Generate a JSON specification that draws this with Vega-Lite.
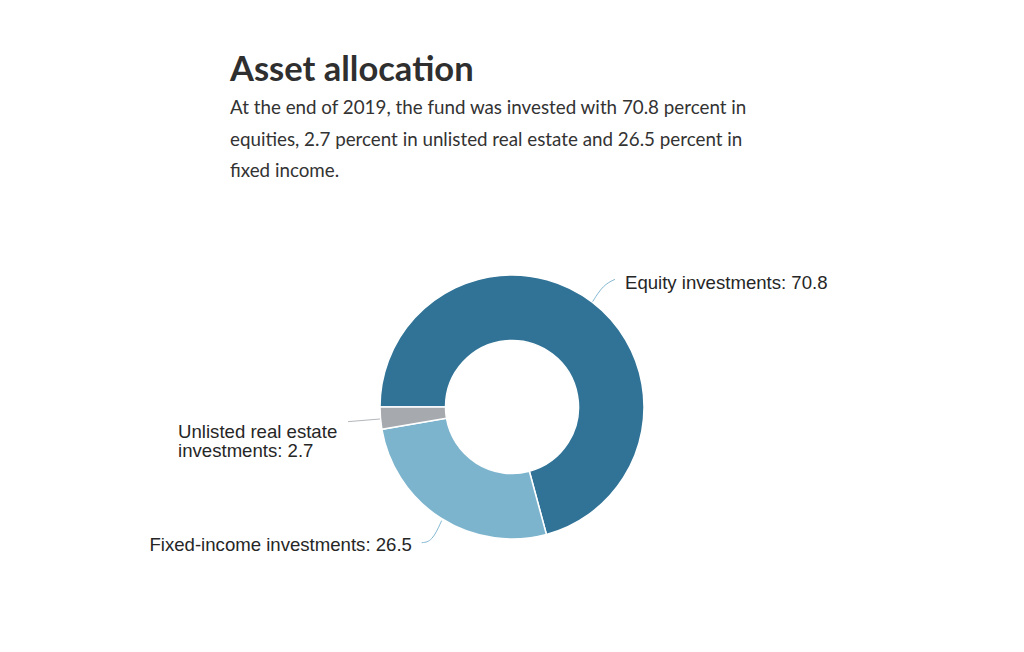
{
  "$schema": "https://vega.github.io/schema/vega-lite/v6.json",
  "width": 1024,
  "height": 490,
  "autosize": "none",
  "padding": {"top": 162, "left": 0, "right": 0, "bottom": 0},
  "background": "white",
  "config": {"view": {"stroke": null}},
  "title": {
    "text": "Asset allocation",
    "subtitle": [
      "At the end of 2019, the fund was invested with 70.8 percent in",
      "equities, 2.7 percent in unlisted real estate and 26.5 percent in",
      "fixed income."
    ],
    "anchor": "start",
    "frame": "group",
    "dx": 230,
    "offset": -20,
    "font": "Lato",
    "fontSize": 34.5,
    "fontWeight": "bold",
    "color": "#2f2f2f",
    "subtitleFont": "Lato",
    "subtitleFontSize": 18.8,
    "subtitleColor": "#333333",
    "subtitleLineHeight": 31.5,
    "subtitlePadding": 11
  },
  "datasets": {
    "slices": [
      {"category": "Equity investments", "value": 70.8, "order": 1},
      {"category": "Fixed-income investments", "value": 26.5, "order": 2},
      {"category": "Unlisted real estate investments", "value": 2.7, "order": 3}
    ],
    "labels": [
      {"label": "Equity investments: 70.8", "x": 0.856, "y": 0.939, "side": "left"},
      {"label": "Fixed-income investments: 26.5", "x": -0.758, "y": -1.045, "side": "right"},
      {"label": "Unlisted real estate\ninvestments: 2.7", "x": -2.53, "y": -0.19, "side": "left"}
    ],
    "leaders": [
      {"series": "equity", "step": 1, "x": 0.611, "y": 0.798},
      {"series": "equity", "step": 2, "x": 0.69, "y": 0.924},
      {"series": "equity", "step": 3, "x": 0.78, "y": 0.967},
      {"series": "fixed", "step": 1, "x": -0.684, "y": -1.028},
      {"series": "fixed", "step": 2, "x": -0.606, "y": -1.02},
      {"series": "fixed", "step": 3, "x": -0.533, "y": -0.861},
      {"series": "unlisted", "step": 1, "x": -1.242, "y": -0.111},
      {"series": "unlisted", "step": 2, "x": -1.0, "y": -0.091}
    ]
  },
  "layer": [
    {
      "data": {"name": "slices"},
      "mark": {"type": "arc", "outerRadius": 132, "innerRadius": 66.5, "stroke": "white", "strokeWidth": 1.5},
      "encoding": {
        "theta": {"field": "value", "type": "quantitative", "stack": true, "scale": {"range": [-1.5708, 4.7124]}},
        "order": {"field": "order", "type": "quantitative"},
        "color": {
          "field": "category",
          "type": "nominal",
          "scale": {
            "domain": ["Equity investments", "Fixed-income investments", "Unlisted real estate investments"],
            "range": ["#317397", "#7db4cd", "#a6aaae"]
          },
          "legend": null
        }
      }
    },
    {
      "data": {"name": "leaders"},
      "mark": {"type": "line", "interpolate": "basis", "strokeWidth": 1},
      "encoding": {
        "x": {"field": "x", "type": "quantitative", "scale": {"domain": [-3.879, 3.879]}, "axis": null},
        "y": {"field": "y", "type": "quantitative", "scale": {"domain": [-1.856, 1.856]}, "axis": null},
        "detail": {"field": "series"},
        "order": {"field": "step"},
        "color": {
          "field": "series",
          "type": "nominal",
          "scale": {"domain": ["equity", "fixed", "unlisted"], "range": ["#86b8d2", "#86b8d2", "#b3b7bb"]},
          "legend": null
        }
      }
    },
    {
      "data": {"name": "labels"},
      "transform": [{"filter": "datum.side === 'left'"}],
      "mark": {"type": "text", "align": "left", "font": "Liberation Sans", "fontSize": 18.6, "color": "#262626", "baseline": "middle", "lineBreak": "\n", "lineHeight": 19},
      "encoding": {
        "x": {"field": "x", "type": "quantitative", "scale": {"domain": [-3.879, 3.879]}, "axis": null},
        "y": {"field": "y", "type": "quantitative", "scale": {"domain": [-1.856, 1.856]}, "axis": null},
        "text": {"field": "label"}
      }
    },
    {
      "data": {"name": "labels"},
      "transform": [{"filter": "datum.side === 'right'"}],
      "mark": {"type": "text", "align": "right", "font": "Liberation Sans", "fontSize": 18.6, "color": "#262626", "baseline": "middle"},
      "encoding": {
        "x": {"field": "x", "type": "quantitative", "scale": {"domain": [-3.879, 3.879]}, "axis": null},
        "y": {"field": "y", "type": "quantitative", "scale": {"domain": [-1.856, 1.856]}, "axis": null},
        "text": {"field": "label"}
      }
    }
  ],
  "resolve": {"scale": {"color": "independent"}}
}
